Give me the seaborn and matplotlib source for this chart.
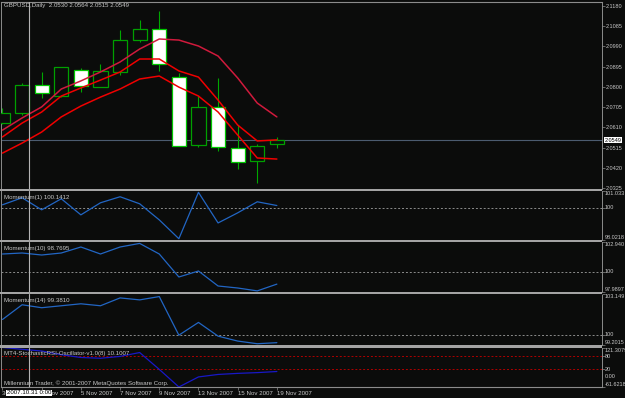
import numpy as np
import pandas as pd
import matplotlib
matplotlib.use("Agg")
import matplotlib.pyplot as plt
import matplotlib.transforms as mtransforms
from matplotlib.patches import Rectangle
import seaborn as sns

# ---------------- data ----------------
bars = list(range(15))
dates = ["30 Oct 2007", "31 Oct 2007", "1 Nov 2007", "2 Nov 2007", "5 Nov 2007",
         "6 Nov 2007", "7 Nov 2007", "8 Nov 2007", "9 Nov 2007", "12 Nov 2007",
         "13 Nov 2007", "14 Nov 2007", "15 Nov 2007", "16 Nov 2007", "19 Nov 2007"]
open_ = [2.0630, 2.0677, 2.0809, 2.0757, 2.0879, 2.0800, 2.0870, 2.1020, 2.1072,
         2.0846, 2.0527, 2.0706, 2.0513, 2.0452, 2.0530]
high = [2.0701, 2.0818, 2.0870, 2.0895, 2.0889, 2.0908, 2.1067, 2.1114, 2.1157,
        2.0865, 2.0757, 2.0842, 2.0621, 2.0532, 2.0564]
low = [2.0628, 2.0668, 2.0748, 2.0753, 2.0776, 2.0798, 2.0856, 2.1011, 2.0875,
       2.0520, 2.0518, 2.0499, 2.0414, 2.0348, 2.0515]
close = [2.0677, 2.0809, 2.0771, 2.0893, 2.0804, 2.0875, 2.1020, 2.1072, 2.0908,
         2.0522, 2.0706, 2.0518, 2.0447, 2.0522, 2.0549]

ma_slow = [2.0597, 2.0654, 2.0706, 2.0790, 2.0828, 2.0870, 2.0917, 2.0978, 2.1025,
           2.1020, 2.0992, 2.0945, 2.0842, 2.0724, 2.0659]
ma_mid = [2.0565, 2.0630, 2.0682, 2.0757, 2.0795, 2.0832, 2.0870, 2.0931, 2.0931,
          2.0875, 2.0846, 2.0738, 2.0621, 2.0546, 2.0551]
ma_low = [2.0489, 2.0536, 2.0588, 2.0659, 2.0710, 2.0752, 2.0790, 2.0837, 2.0851,
          2.0799, 2.0757, 2.0682, 2.0574, 2.0466, 2.0461]

mom1 = [100.185, 100.618, 99.876, 100.556, 99.567, 100.309, 100.680, 100.247, 99.258,
        98.10, 100.95, 99.07, 99.69, 100.37, 100.1412]
mom10 = [101.752, 101.851, 101.653, 101.851, 102.445, 101.752, 102.445, 102.80, 101.752,
         99.475, 100.069, 98.584, 98.386, 98.10, 98.7695]
mom14 = [101.176, 102.315, 102.087, 102.239, 102.391, 102.239, 102.846, 102.694, 102.95,
         99.962, 100.949, 99.886, 99.507, 99.30, 99.3810]
stoch = [121.3, 113.0, 105.0, 88.0, 75.0, 71.5, 80.0, 98.0, 20.0, -61.6, -15.0, -3.5,
         1.5, 5.0, 10.1007]

price_ticks = [2.1180, 2.1085, 2.0990, 2.0895, 2.0800, 2.0705, 2.0610, 2.0515, 2.0420, 2.0325]
last_price = 2.0549
mom1_scale = (98.0218, 101.033)
mom1_scale_labels = ("98.0218", "101.033")
mom10_scale = (97.9897, 102.940)
mom10_scale_labels = ("97.9897", "102.940")
mom14_scale = (99.2015, 103.149)
mom14_scale_labels = ("99.2015", "103.149")
stoch_scale = (-61.6218, 121.3079)
stoch_scale_labels = ("-61.6218", "121.3079")
stoch_levels = [80, 20]

# ---------------- style ----------------
BG = "#0b0c0b"
TXT = "#c8c8c8"
GRID = "#8c8c8c"
FS = 4.4
FSR = 4.0
sns.set_theme(style="dark", rc={"axes.facecolor": BG, "figure.facecolor": BG})
plt.rcParams["font.family"] = ["Liberation Sans", "DejaVu Sans"]

W, H = 625, 398
fig = plt.figure(figsize=(W / 100, H / 100), dpi=100, facecolor=BG)
X0, X1 = 1.5, 602.0
XL = (-0.05, 30.59)


def panel(top, bottom):
    ax = fig.add_axes([X0 / W, 1 - bottom / H, (X1 - X0) / W, (bottom - top) / H])
    ax.set_facecolor(BG)
    ax.set_xlim(*XL)
    ax.grid(False)
    for s in ["top", "bottom"]:
        ax.spines[s].set_visible(False)
    ax.spines["left"].set_color(GRID)
    ax.spines["left"].set_linewidth(0.7)
    ax.spines["right"].set_color(GRID)
    ax.spines["right"].set_linewidth(0.7)
    ax.spines["right"].set_linestyle((0, (1.5, 1)))
    ax.set_xticks([])
    ax.yaxis.tick_right()
    ax.tick_params(axis="y", colors=GRID, labelcolor=TXT, labelsize=FSR, length=2,
                   width=0.5, pad=1, direction="out")
    ax.set_xlabel("")
    ax.set_ylabel("")
    return ax


def yfrac(top, bottom, ypx):
    return 1 - (ypx - top) / (bottom - top)


# ---------- main price panel ----------
T0, B0 = 2, 189
ax = panel(T0, B0)
ax.spines["top"].set_visible(True)
ax.spines["top"].set_color(GRID)
ax.spines["top"].set_linewidth(0.8)
ax.set_ylim(2.03203, 2.11988)

bull_edge = "#00a000"
bear_edge = "#00c800"
for i in bars:
    o, h, l, c = open_[i], high[i], low[i], close[i]
    ax.vlines(i, l, h, color="#00a800", lw=0.8, zorder=2)
    if c >= o:
        ax.bar(i, c - o, bottom=o, width=0.72, color=BG, edgecolor=bull_edge,
               linewidth=0.9, zorder=3)
    else:
        ax.bar(i, o - c, bottom=c, width=0.72, color="white", edgecolor=bear_edge,
               linewidth=0.9, zorder=3)

df_ma = pd.DataFrame({"bar": bars, "slow": ma_slow, "mid": ma_mid, "low": ma_low})
sns.lineplot(data=df_ma, x="bar", y="slow", ax=ax, color="#d01a3c", lw=1.1, zorder=4, legend=False)
sns.lineplot(data=df_ma, x="bar", y="mid", ax=ax, color="#f00000", lw=1.1, zorder=4, legend=False)
sns.lineplot(data=df_ma, x="bar", y="low", ax=ax, color="#f00000", lw=1.1, zorder=4, legend=False)
ax.axhline(last_price, color="#4c5c70", lw=0.8, zorder=1)
ax.set_yticks(price_ticks)
ax.set_yticklabels([f"{v:.4f}" for v in price_ticks])
ax.set_xlabel("")
ax.set_ylabel("")
ax.set_xticks([])
ax.text(1.004, last_price, f"{last_price:.4f}", transform=ax.get_yaxis_transform(),
        ha="left", va="center", fontsize=FSR, color="black", zorder=10, clip_on=False,
        bbox=dict(facecolor="white", edgecolor="none", pad=0.5))
ax.text((4 - X0) / (X1 - X0), yfrac(T0, B0, 6),
        "GBPUSD,Daily  2.0530 2.0564 2.0515 2.0549",
        transform=ax.transAxes, ha="left", va="center", fontsize=FS, color=TXT)
axes = [ax]


def indicator(top, bottom, values, scale, scale_labels, color, title, levels,
              level_color, level_style):
    a = panel(top, bottom)
    a.set_ylim(*scale)
    for lv in levels:
        a.axhline(lv, color=level_color, lw=0.7, ls=level_style, zorder=1)
    d = pd.DataFrame({"bar": bars, "v": values})
    sns.lineplot(data=d, x="bar", y="v", ax=a, color=color, lw=0.9, zorder=3, legend=False)
    a.set_xlabel("")
    a.set_ylabel("")
    a.set_xticks([])
    a.set_yticks([scale[0], scale[1]] + list(levels))
    a.set_yticklabels([])
    tr = a.get_yaxis_transform()
    kw = dict(transform=tr, ha="left", fontsize=FSR, color=TXT, clip_on=False)
    a.text(1.004, scale[1], scale_labels[1], va="top", **kw)
    a.text(1.004, scale[0], scale_labels[0], va="bottom", **kw)
    a.text((4 - X0) / (X1 - X0), yfrac(top, bottom, top + 6.5), title,
           transform=a.transAxes, ha="left", va="center", fontsize=FS, color=TXT)
    return a


a1 = indicator(191, 240, mom1, mom1_scale, mom1_scale_labels, "#2266c4",
               "Momentum(1) 100.1412", [100], GRID, (0, (2, 2)))
a1.text(1.004, 100, "100", transform=a1.get_yaxis_transform(), va="center",
        ha="left", fontsize=FSR, color=TXT)
a2 = indicator(242, 292, mom10, mom10_scale, mom10_scale_labels, "#2266c4",
               "Momentum(10) 98.7695", [100], GRID, (0, (2, 2)))
a2.text(1.004, 100, "100", transform=a2.get_yaxis_transform(), va="center",
        ha="left", fontsize=FSR, color=TXT)
a3 = indicator(294, 345, mom14, mom14_scale, mom14_scale_labels, "#2266c4",
               "Momentum(14) 99.3810", [100], GRID, (0, (2, 2)))
a3.text(1.004, 100, "100", transform=a3.get_yaxis_transform(), va="center",
        ha="left", fontsize=FSR, color=TXT)

TS, BS = 347.5, 387
a4 = indicator(TS, BS, stoch, stoch_scale, stoch_scale_labels, "#1818c8",
               "MT4-StochasticRSI-Oscillator-v1.0(8) 10.1007",
               stoch_levels, "#b00000", (0, (2, 2)))
tr4 = a4.get_yaxis_transform()
a4.text(1.004, 80, "80", transform=tr4, va="center", ha="left", fontsize=FSR, color=TXT)
a4.text(1.004, 20, "20", transform=tr4, va="center", ha="left", fontsize=FSR, color=TXT)
a4.text(1.004, 0, "0.00", transform=tr4, va="top", ha="left", fontsize=FSR, color=TXT)
a4.spines["bottom"].set_visible(True)
a4.spines["bottom"].set_color(GRID)
a4.spines["bottom"].set_linewidth(0.8)
a4.text((4 - X0) / (X1 - X0), yfrac(TS, BS, 383),
        "Millennium Trader, \u00a9 2001-2007 MetaQuotes Software Corp.",
        transform=a4.transAxes, ha="left", va="center", fontsize=FS, color=TXT)

# date axis
a4.set_xticks(bars[::2])
a4.set_xticklabels(dates[::2], ha="left")
a4.tick_params(axis="x", colors=GRID, labelcolor=TXT, labelsize=FS, length=2,
               width=0.5, pad=1, bottom=True)
axes += [a1, a2, a3, a4]

# crosshair
cross_x = 1.352
for a in axes:
    a.axvline(cross_x, color="#b4b4b4", lw=0.8, zorder=6)
a4.text(cross_x, yfrac(TS, BS, 393), "2007.10.31 0:00",
        transform=mtransforms.blended_transform_factory(a4.transData, a4.transAxes),
        ha="center", va="center", fontsize=FS, color="black", zorder=10, clip_on=False,
        bbox=dict(facecolor="white", edgecolor="none", pad=0.6))

# panel separators
for y0, y1 in [(189, 191), (240, 242), (292, 294), (345, 347.5)]:
    fig.add_artist(Rectangle((0, 1 - y1 / H), X1 / W, (y1 - y0) / H,
                             transform=fig.transFigure, facecolor="#a4a4a4",
                             edgecolor="none"))

fig.savefig("out.png", dpi=100, facecolor=BG)
